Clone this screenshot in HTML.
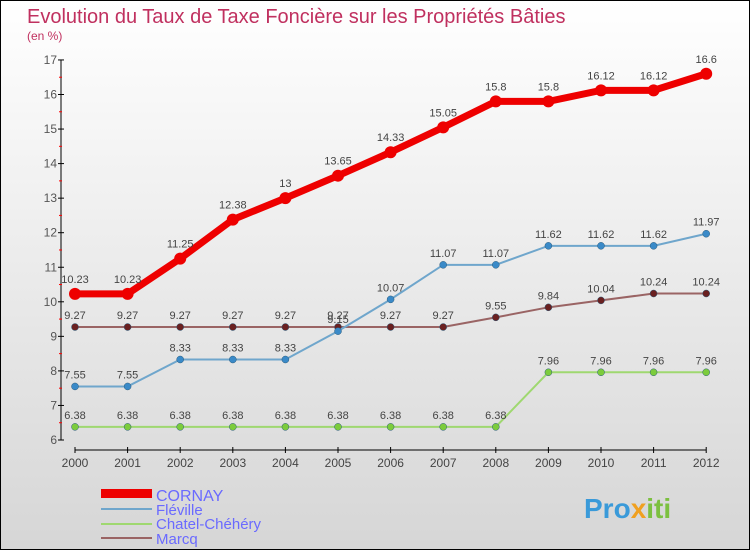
<!DOCTYPE html>
<html><head><meta charset="utf-8"><style>
body{margin:0;}
#c{width:748px;height:548px;border:1px solid #000;background:linear-gradient(#fff,#d6d6d6);position:relative;overflow:hidden;font-family:"Liberation Sans",sans-serif;}
</style></head><body>
<div id="c">
<svg id="s" width="748" height="548" xmlns="http://www.w3.org/2000/svg">
<text x="26" y="22" font-size="20" fill="#c0305f">Evolution du Taux de Taxe Foncière sur les Propriétés Bâties</text>
<text x="26" y="39" font-size="12" fill="#c0305f">(en %)</text>
<g id="ax"></g><g id="ser"></g>
<g>
<rect x="100" y="488" width="51" height="9" fill="#e00"/>
<text x="155" y="500" font-size="16" fill="#6a6aff">CORNAY</text>
<rect x="100" y="507" width="51" height="2" fill="#6fa6cc"/>
<text x="155" y="514" font-size="15" fill="#6a6aff">Fléville</text>
<rect x="100" y="522" width="51" height="2" fill="#9fd870"/>
<text x="155" y="528" font-size="15" fill="#6a6aff">Chatel-Chéhéry</text>
<rect x="100" y="536" width="51" height="2" fill="#9a6464"/>
<text x="155" y="543" font-size="15" fill="#6a6aff">Marcq</text>
</g>
<text x="583" y="517" font-size="28" font-weight="bold" fill="#3a9ad9">Pro<tspan fill="#f0a020">x</tspan><tspan fill="#7cc040">iti</tspan></text>
</svg>
</div>
<script>
const years=[2000,2001,2002,2003,2004,2005,2006,2007,2008,2009,2010,2011,2012];
const yTicks=[6,7,8,9,10,11,12,13,14,15,16,17];
const cornay=[10.23,10.23,11.25,12.38,13,13.65,14.33,15.05,15.8,15.8,16.12,16.12,16.6];
const fleville=[7.55,7.55,8.33,8.33,8.33,9.15,10.07,11.07,11.07,11.62,11.62,11.62,11.97];
const chatel=[6.38,6.38,6.38,6.38,6.38,6.38,6.38,6.38,6.38,7.96,7.96,7.96,7.96];
const marcq=[9.27,9.27,9.27,9.27,9.27,9.27,9.27,9.27,9.55,9.84,10.04,10.24,10.24];
const NS="http://www.w3.org/2000/svg";
const xS=i=>74+i*52.6;
const yS=v=>439-(v-6)*34.55;
function mk(t,a,p){const e=document.createElementNS(NS,t);for(const k in a)e.setAttribute(k,a[k]);p.appendChild(e);return e;}
const ax=document.getElementById('ax');
let l=mk('line',{x1:60,y1:yS(17),x2:60,y2:yS(6),stroke:'#000','stroke-width':1},ax);


l=mk('line',{x1:xS(0),y1:449,x2:xS(12),y2:449,stroke:'#000','stroke-width':1},ax);


yTicks.forEach(v=>{
 mk('line',{x1:57,y1:yS(v),x2:63,y2:yS(v),stroke:'#000'},ax);
 if(v<17)mk('line',{x1:58,y1:yS(v+0.5),x2:61,y2:yS(v+0.5),stroke:'#f00'},ax);
 const t=mk('text',{x:56,y:yS(v)+4,'font-size':12,fill:'#555','text-anchor':'end'},ax);
 t.textContent=v;
 
 
});
years.forEach((y,i)=>{
 mk('line',{x1:xS(i),y1:446,x2:xS(i),y2:452,stroke:'#000'},ax);
 const t=mk('text',{x:xS(i),y:466,'font-size':12,fill:'#444','text-anchor':'middle'},ax);
 t.textContent=y;
 
 
});
const ser=document.getElementById('ser');
function draw(vals,name,col,dot,w,r){
 const g=mk('g',{},ser);
 
 
 const p=mk('polyline',{points:vals.map((v,i)=>xS(i)+','+yS(v)).join(' '),fill:'none',stroke:col,'stroke-width':w},g);
 
 
 vals.forEach((v,i)=>{
  const c=mk('circle',{cx:xS(i),cy:yS(v),r:r,fill:dot,stroke:w>3?'none':'#2a5a7a','stroke-width':0.5},g);
  
  
  const t=mk('text',{x:xS(i),y:yS(v)-(w>3?11:8),'font-size':11,fill:'#444','text-anchor':'middle'},g);
  t.textContent=v;
  
  
 });
}
draw(chatel,'chatel','#9fd870','#7ccc3c',2,3.5);
draw(marcq,'marcq','#9a6464','#6a2020',2,3.5);
draw(fleville,'fleville','#6fa6cc','#3a8ac8',2,3.5);
draw(cornay,'cornay','#e00','#e00',7,6);
</script>
</body></html>
